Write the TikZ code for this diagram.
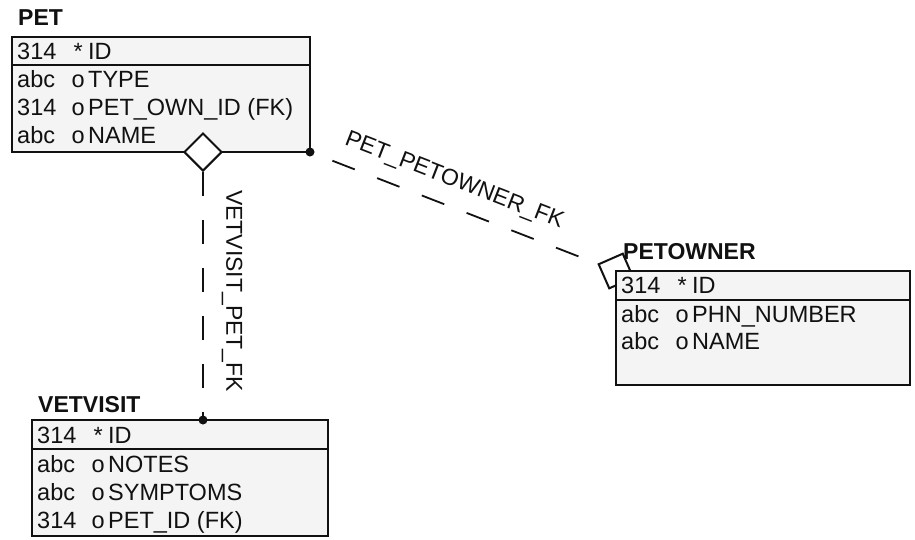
\documentclass[tikz,border=0pt]{standalone}
\usepackage{fontspec}
\setmainfont{Liberation Sans}
\usetikzlibrary{positioning,shapes.geometric,backgrounds}
\definecolor{ink}{HTML}{111111}
\definecolor{paper}{HTML}{F4F4F4}
\newcommand\fld[3]{\makebox[51pt][l]{#1}\makebox[20pt][c]{#2}#3}
\tikzset{every node/.style={font=\fontsize{23.5}{27}\selectfont,text=ink,inner sep=0pt},
tbl/.style={draw=ink,line width=2pt,fill=paper,outer sep=0pt,minimum width=#1,anchor=north west},
title/.style={font=\bfseries\fontsize{23}{27}\selectfont,anchor=base west},
fld/.style={anchor=base west},
lbl/.style={font=\fontsize{23}{27}\selectfont,sloped},
rel/.style={diamond,aspect=1,draw=ink,line width=2pt,fill=white,minimum width=38pt,minimum height=38pt},
fk/.style={draw=ink,line width=1.8pt,dash pattern=on 24pt off 24pt}}

\begin{document}
\begin{tikzpicture}[x=1pt,y=1pt]
\useasboundingbox (0,0) rectangle (915,-539);
% PET
\node[title] (pett) at (18,-25) {PET};
\node[tbl=298pt,minimum height=28pt] (peth) at (12,-37) {};
\node[tbl=298pt,minimum height=87pt,below=0pt of peth] (petb) {};
\node[fld] (pet0) at (17,-59) {\fld{314}{*}{ID}};
\node[fld] (pet1) at (17,-87) {\fld{abc}{o}{TYPE}};
\node[fld] (pet2) at (17,-115) {\fld{314}{o}{PET\_OWN\_ID (FK)}};
\node[fld] (pet3) at (17,-143) {\fld{abc}{o}{NAME}};
\node[rel] (petd) at (203,-152) {};
% VETVISIT
\node[title] (vett) at (38,-412) {VETVISIT};
\node[tbl=296pt,minimum height=29pt] (veth) at (32,-420) {};
\node[tbl=296pt,minimum height=87pt,below=0pt of veth] (vetb) {};
\node[fld] (vet0) at (37,-443) {\fld{314}{*}{ID}};
\node[fld] (vet1) at (37,-472) {\fld{abc}{o}{NOTES}};
\node[fld] (vet2) at (37,-500) {\fld{abc}{o}{SYMPTOMS}};
\node[fld] (vet3) at (37,-528) {\fld{314}{o}{PET\_ID (FK)}};
% PETOWNER
\node[title] (owt) at (623,-259) {PETOWNER};
\node[tbl=294pt,minimum height=29pt] (owh) at (616,-271) {};
\node[tbl=294pt,minimum height=85pt,below=0pt of owh] (owb) {};
\node[fld] (ow0) at (621,-293) {\fld{314}{*}{ID}};
\node[fld] (ow1) at (621,-322) {\fld{abc}{o}{PHN\_NUMBER}};
\node[fld] (ow2) at (621,-349) {\fld{abc}{o}{NAME}};
\begin{scope}[on background layer]
\node[rel,rotate=-21.3] (owd) at (owh.north west) {};
\end{scope}
% relations
\draw[fk] (petd.south) -- node[lbl,pos=.48,above=18pt] {VETVISIT\_PET\_FK} (petd.south |- veth.north) coordinate (vdot);
\fill[ink] (vdot) circle (4.5pt);
\draw[fk,dash phase=24pt] (petb.south east) -- node[lbl,pos=.47,above=14pt] {PET\_PETOWNER\_FK} (owd.west);
\fill[ink] (petb.south east) circle (4.5pt);
\end{tikzpicture}
\end{document}
